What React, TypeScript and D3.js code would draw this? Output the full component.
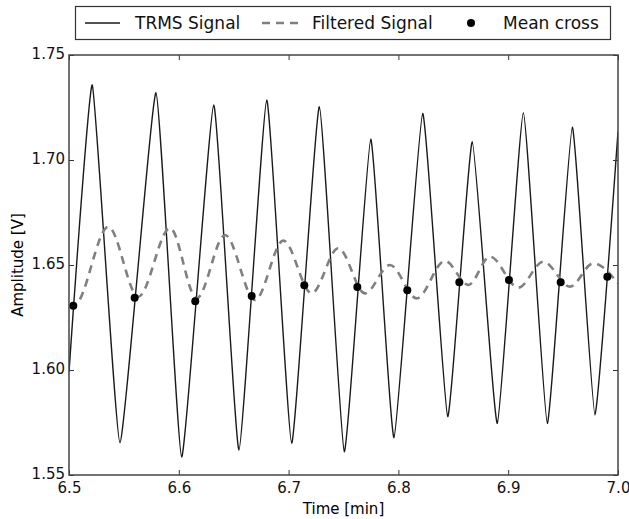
import React, { useEffect, useRef } from 'react';
import * as d3 from 'd3';

const trmsTime = [6.5, 6.5212, 6.5464, 6.5792, 6.6026, 6.6318, 6.6548, 6.6801, 6.7028, 6.728, 6.7507,
  6.7748, 6.796, 6.8221, 6.8449, 6.8673, 6.8901, 6.9138, 6.9356, 6.9584, 6.979, 7.0];
const trmsValue = [1.599, 1.7357, 1.5654, 1.732, 1.5586, 1.7262, 1.5619, 1.7286, 1.5651, 1.7254, 1.5611,
  1.7099, 1.5678, 1.7222, 1.5778, 1.7087, 1.5746, 1.7225, 1.5746, 1.7156, 1.5786, 1.7135];

// Filtered signal, alternating peaks / troughs
const filtTime = [6.5, 6.506, 6.5358, 6.5631, 6.592, 6.6163, 6.6421, 6.6694, 6.6952, 6.721, 6.7453,
  6.7696, 6.7923, 6.8167, 6.8424, 6.8637, 6.8834, 6.9092, 6.932, 6.9563, 6.9775, 7.0];
const filtValue = [1.6302, 1.631, 1.6682, 1.6349, 1.6676, 1.6341, 1.6643, 1.6333, 1.6616, 1.6365, 1.658,
  1.6365, 1.65, 1.6341, 1.652, 1.6405, 1.654, 1.6392, 1.6516, 1.6397, 1.6508, 1.6412];

// Mean crossings
const crossTime = [6.5039, 6.5598, 6.615, 6.6664, 6.7143, 6.7626, 6.8081, 6.8555, 6.9007, 6.9478, 6.9903];
const crossValue = [1.6306, 1.6344, 1.6327, 1.6352, 1.6403, 1.6395, 1.638, 1.6418, 1.6429, 1.6418, 1.6444];

const xTicks = [6.5, 6.6, 6.7, 6.8, 6.9, 7.0];
const yTicks = [1.55, 1.6, 1.65, 1.7, 1.75];

const legendLabels = ['TRMS Signal', 'Filtered Signal', 'Mean cross'];

export default function App() {
  const ref = useRef<SVGSVGElement>(null);

  useEffect(() => {
    document.body.style.margin = '0';
    const svg = d3.select(ref.current);
    svg.selectAll('*').remove();

    const margin = { top: 55, right: 11, bottom: 44, left: 69 };
    const width = 629 - margin.left - margin.right;
    const height = 519 - margin.top - margin.bottom;
    const font = 'DejaVu Sans, sans-serif';

    const x = d3.scaleLinear().domain([6.5, 7.0]).range([0, width]);
    const y = d3.scaleLinear().domain([1.55, 1.75]).range([height, 0]);

    const g = svg.append('g').attr('transform', `translate(${margin.left},${margin.top})`);

    // clip so the lines stay inside the frame
    g.append('clipPath').attr('id', 'plot-clip')
      .append('rect').attr('width', width).attr('height', height);

    // raw signal: straight flanks with rounded tips; filtered one is smooth
    const rawLine = d3.line<[number, number]>()
      .x((d) => x(d[0]))
      .y((d) => y(d[1]))
      .curve(d3.curveCardinal.tension(0.6));
    const smoothLine = d3.line<[number, number]>()
      .x((d) => x(d[0]))
      .y((d) => y(d[1]))
      .curve(d3.curveMonotoneX);

    const trms = trmsTime.map((t, i) => [t, trmsValue[i]] as [number, number]);
    const filt = filtTime.map((t, i) => [t, filtValue[i]] as [number, number]);

    const plot = g.append('g').attr('clip-path', 'url(#plot-clip)');

    plot.append('path')
      .attr('d', rawLine(trms))
      .attr('fill', 'none')
      .attr('stroke', '#1a1a1a')
      .attr('stroke-width', 1.4)
      .attr('stroke-linejoin', 'round');

    plot.append('path')
      .attr('d', smoothLine(filt))
      .attr('fill', 'none')
      .attr('stroke', '#808080')
      .attr('stroke-width', 2.6)
      .attr('stroke-dasharray', '8,6');

    plot.selectAll('.cross')
      .data(crossTime)
      .enter()
      .append('circle')
      .attr('class', 'cross')
      .attr('cx', (d) => x(d))
      .attr('cy', (d, i) => y(crossValue[i]))
      .attr('r', 4)
      .attr('fill', '#000');

    // axes, ticks pointing inwards on all four sides
    const styleAxis = (sel: any) => {
      sel.select('.domain').remove();
      sel.selectAll('line').attr('stroke', '#333').attr('stroke-width', 1);
      sel.selectAll('text').attr('font-family', font).attr('font-size', 15).attr('fill', '#111');
    };

    g.append('g')
      .attr('transform', `translate(0,${height})`)
      .call(d3.axisBottom(x).tickValues(xTicks).tickFormat(d3.format('.1f')).tickSizeInner(-5).tickSizeOuter(0).tickPadding(7))
      .call(styleAxis);
    g.append('g')
      .call(d3.axisTop(x).tickValues(xTicks).tickFormat(() => '').tickSizeInner(-5).tickSizeOuter(0))
      .call(styleAxis);
    g.append('g')
      .call(d3.axisLeft(y).tickValues(yTicks).tickFormat(d3.format('.2f')).tickSizeInner(-5).tickSizeOuter(0).tickPadding(4))
      .call(styleAxis)
      .selectAll('text')
      .attr('dy', '0.22em');
    g.append('g')
      .attr('transform', `translate(${width},0)`)
      .call(d3.axisRight(y).tickValues(yTicks).tickFormat(() => '').tickSizeInner(-5).tickSizeOuter(0))
      .call(styleAxis);

    g.append('rect')
      .attr('width', width)
      .attr('height', height)
      .attr('fill', 'none')
      .attr('stroke', '#444')
      .attr('stroke-width', 1.5);

    // axis labels
    g.append('text')
      .attr('x', width / 2)
      .attr('y', height + 39)
      .attr('text-anchor', 'middle')
      .attr('font-family', font)
      .attr('font-size', 15)
      .text('Time [min]');
    g.append('text')
      .attr('transform', `translate(${-46},${height / 2}) rotate(-90)`)
      .attr('text-anchor', 'middle')
      .attr('font-family', font)
      .attr('font-size', 15)
      .text('Amplitude [V]');

    // legend above the plot
    const leg = svg.append('g');
    leg.append('rect')
      .attr('x', 75.5)
      .attr('y', 6.5)
      .attr('width', 535)
      .attr('height', 33)
      .attr('fill', '#fff')
      .attr('stroke', '#333')
      .attr('stroke-width', 1.2);
    const ly = 23;
    leg.append('line').attr('x1', 85).attr('x2', 120).attr('y1', ly).attr('y2', ly)
      .attr('stroke', '#1a1a1a').attr('stroke-width', 1.4);
    leg.append('line').attr('x1', 262).attr('x2', 299).attr('y1', ly).attr('y2', ly)
      .attr('stroke', '#808080').attr('stroke-width', 2.6).attr('stroke-dasharray', '8,6');
    leg.append('circle').attr('cx', 471).attr('cy', ly).attr('r', 4).attr('fill', '#000');
    const textX = [135, 312, 503];
    leg.selectAll('.legtext')
      .data(legendLabels)
      .enter()
      .append('text')
      .attr('class', 'legtext')
      .attr('x', (d, i) => textX[i])
      .attr('y', ly)
      .attr('dy', '0.36em')
      .attr('font-family', font)
      .attr('font-size', 17)
      .attr('fill', '#111')
      .text((d) => d);
  }, []);

  return <svg ref={ref} width={629} height={519} style={{ display: 'block', background: '#fff' }} />;
}
